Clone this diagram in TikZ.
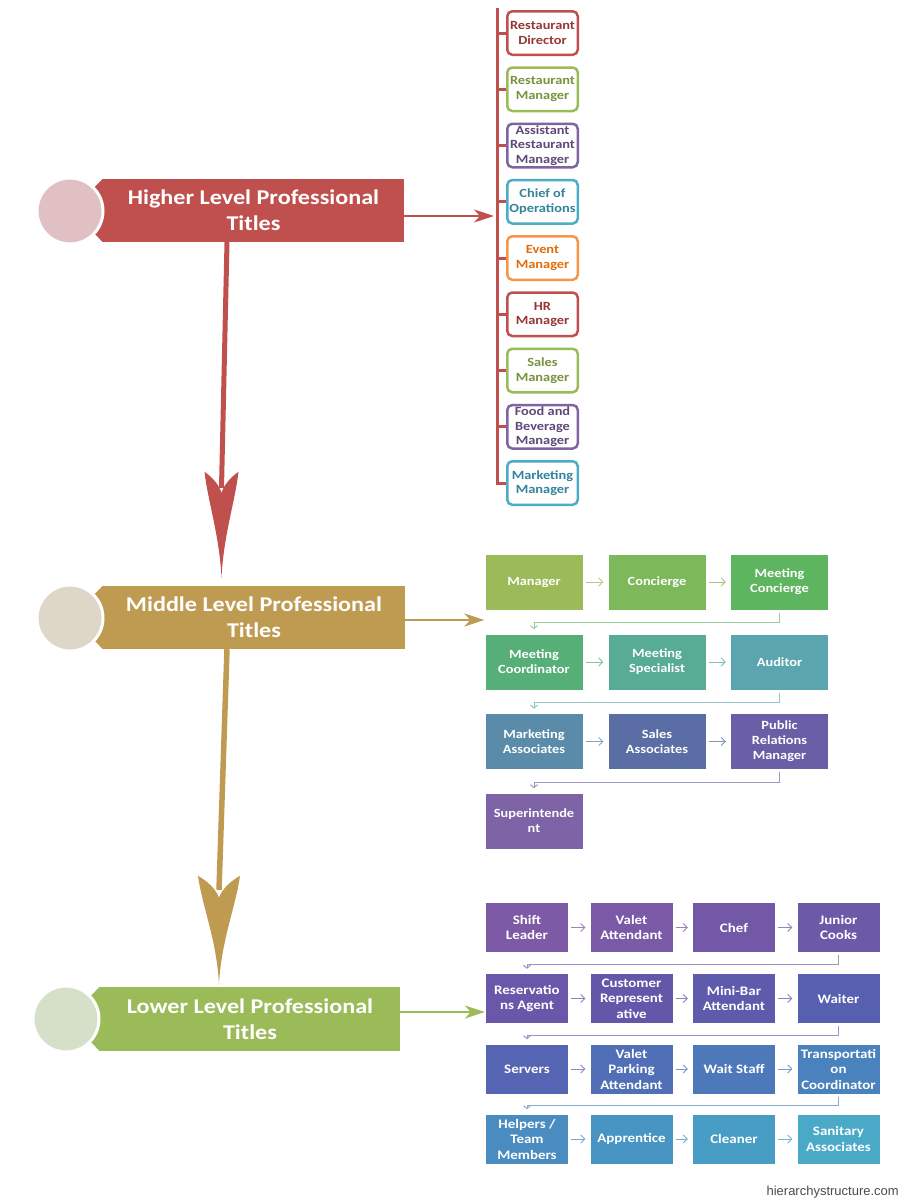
\documentclass[tikz,border=0pt]{standalone}
\usepackage{fontspec}
\setmainfont{Carlito}
\newfontfamily\cf{Carlito}[FakeStretch=1.15]
\newfontfamily\wmfont{Liberation Sans}
\usetikzlibrary{arrows.meta,calc}
% level colours
\definecolor{hred}{HTML}{C0504D}
\definecolor{hcirc}{HTML}{E0C0C3}
\definecolor{mgold}{HTML}{BF9B52}
\definecolor{mcirc}{HTML}{DED6C6}
\definecolor{lgreen}{HTML}{9BBB59}
\definecolor{lcirc}{HTML}{D6E0C9}
% list colours
\definecolor{cred}{HTML}{C0504D}\definecolor{tred}{HTML}{953735}
\definecolor{cgrn}{HTML}{9BBB59}\definecolor{tgrn}{HTML}{77933C}
\definecolor{cpur}{HTML}{8064A2}\definecolor{tpur}{HTML}{5F497A}
\definecolor{ctea}{HTML}{4BACC6}\definecolor{ttea}{HTML}{31849B}
\definecolor{cora}{HTML}{F79646}\definecolor{tora}{HTML}{E36C09}
% middle grid colours
\definecolor{mA}{HTML}{9BBB59}\definecolor{mB}{HTML}{7DB85B}\definecolor{mC}{HTML}{5EB560}
\definecolor{mD}{HTML}{57AF78}\definecolor{mE}{HTML}{58AB95}\definecolor{mF}{HTML}{5BA6AE}
\definecolor{mG}{HTML}{5A8CAA}\definecolor{mH}{HTML}{5A6EA5}\definecolor{mI}{HTML}{6A5EA6}
\definecolor{mJ}{HTML}{7E63A6}
% lower grid colours
\definecolor{lA}{HTML}{7D5AA6}\definecolor{lB}{HTML}{7A59A7}\definecolor{lC}{HTML}{7358A8}\definecolor{lD}{HTML}{6C59A8}
\definecolor{lE}{HTML}{6958A9}\definecolor{lF}{HTML}{6457AA}\definecolor{lG}{HTML}{5E5AAC}\definecolor{lH}{HTML}{575FB0}
\definecolor{lI}{HTML}{5565B4}\definecolor{lJ}{HTML}{506FB7}\definecolor{lK}{HTML}{4D78BA}\definecolor{lL}{HTML}{4A82BD}
\definecolor{lM}{HTML}{4A8BC0}\definecolor{lN}{HTML}{4894C2}\definecolor{lO}{HTML}{479DC4}\definecolor{lP}{HTML}{4BA9C8}
\newcommand\spearpath[2]{(0,0) .. controls (2,-0.4*#2) and (0.8*#1,-0.72*#2) .. (#1,-#2) .. controls (0.55*#1,-0.95*#2) and (0.15*#1,-0.88*#2) .. (0,-0.8*#2) .. controls (-0.15*#1,-0.88*#2) and (-0.55*#1,-0.95*#2) .. (-#1,-#2) .. controls (-0.8*#1,-0.72*#2) and (-2,-0.4*#2) .. cycle}
\begin{document}
\begin{tikzpicture}[x=1pt,y=-1pt,
  banner/.style={rectangle, inner sep=0, minimum height=63, text=white, align=center,
    font=\cf\bfseries\fontsize{21}{26}\selectfont},
  circ/.style={circle, inner sep=0, minimum size=66, draw=white, line width=3pt},
  harr/.style={line width=2.2pt, -{Stealth[length=20pt,width=13pt,inset=6pt]}},
  hbox/.style={rounded corners=5pt, draw=#1, line width=2.5pt, fill=white, minimum width=70.5, minimum height=43.5,
    inner sep=0, align=center, font=\cf\bfseries\fontsize{12.5}{14.5}\selectfont},
  brk/.style={draw=hred, line width=3pt},
  mbox/.style={fill=#1, minimum width=97, minimum height=55, inner sep=0, text=white, align=center,
    font=\cf\bfseries\fontsize{12.5}{15}\selectfont},
  lbox/.style={fill=#1, minimum width=82, minimum height=49, inner sep=0, text=white, align=center,
    font=\cf\bfseries\fontsize{13}{15.5}\selectfont},
  garr/.style={draw=#1, line width=0.9pt, shorten <=3pt, shorten >=5pt, -{Straight Barb[length=4pt,width=8pt]}},
  elb/.style={draw=#1, line width=1pt, shorten <=3pt, shorten >=5pt, -{Straight Barb[length=3pt,width=7pt]}}
]
\fill[white] (0,0) rectangle (900,1200);
\useasboundingbox (0,0) rectangle (900,1200);

% ---------- level banners ----------
\node[banner, fill=hred, minimum width=301] (hb) at (253.5,210.5) {Higher Level Professional\\Titles};
\fill[hred] (hb.north west) -- ++(-10,10) -- ++(0,43) -- (hb.south west) -- cycle;
\node[circ, fill=hcirc] (hc) at (70,211) {};

\node[banner, fill=mgold, minimum width=302] (mb) at (254,617.5) {Middle Level Professional\\Titles};
\fill[mgold] (mb.north west) -- ++(-10,10) -- ++(0,43) -- (mb.south west) -- cycle;
\node[circ, fill=mcirc] (mc) at (70,618) {};

\node[banner, fill=lgreen, minimum width=300, minimum height=64] (lb) at (250,1019) {Lower Level Professional\\Titles};
\fill[lgreen] (lb.north west) -- ++(-10,10) -- ++(0,44) -- (lb.south west) -- cycle;
\node[circ, fill=lcirc] (lc) at (66,1019) {};

% ---------- vertical spear arrows ----------
\coordinate (ht) at ([xshift=-32.5pt,yshift=8pt]mb.north);
\draw[hred, line width=5pt] ([xshift=-26.5pt]hb.south) -- ($(ht)+(0,-90)$);
\fill[hred, shift={(ht)}] \spearpath{17}{106};

\coordinate (mt) at ([xshift=-31pt,yshift=2pt]lb.north);
\draw[mgold, line width=5.5pt] ([xshift=-27pt]mb.south) -- ($(mt)+(0,-95)$);
\fill[mgold, shift={(mt)}] \spearpath{21}{109};

% ---------- higher list ----------
\coordinate (brtop) at (497,8);
\coordinate (brbot) at (497,485);
\draw[brk] (brtop) -- (brbot);
\node[hbox=cred, text=tred] (h1) at (542.5,33) {Restaurant\\Director};
\node[hbox=cgrn, text=tgrn] (h2) at (542.5,89.25) {Restaurant\\Manager};
\node[hbox=cpur, text=tpur] (h3) at (542.5,145.5) {Assistant\\Restaurant\\Manager};
\node[hbox=ctea, text=ttea] (h4) at (542.5,201.75) {Chief of\\Operations};
\node[hbox=cora, text=tora] (h5) at (542.5,258) {Event\\Manager};
\node[hbox=cred, text=tred] (h6) at (542.5,314.25) {HR\\Manager};
\node[hbox=cgrn, text=tgrn] (h7) at (542.5,370.5) {Sales\\Manager};
\node[hbox=cpur, text=tpur] (h8) at (542.5,426.75) {Food and\\Beverage\\Manager};
\node[hbox=ctea, text=ttea] (h9) at (542.5,483) {Marketing\\Manager};
\foreach \i in {1,...,9}{\draw[brk] (h\i.west -| brtop) -- (h\i.west);}
\draw[harr, hred, shorten >=3pt] ([yshift=-5.5pt]hb.east) -- ([yshift=-5.5pt]hb.east -| brtop);

% ---------- middle grid ----------
\node[mbox=mA] (m1) at (534,582) {Manager};
\node[mbox=mB] (m2) at (657,582) {Concierge};
\node[mbox=mC] (m3) at (779.5,582) {Meeting\\Concierge};
\node[mbox=mD] (m4) at (534,662) {Meeting\\Coordinator};
\node[mbox=mE] (m5) at (657,662) {Meeting\\Specialist};
\node[mbox=mF] (m6) at (779.5,662) {Auditor};
\node[mbox=mG] (m7) at (534,741.5) {Marketing\\Associates};
\node[mbox=mH] (m8) at (657,741.5) {Sales\\Associates};
\node[mbox=mI] (m9) at (779.5,741.5) {Public\\Relations\\Manager};
\node[mbox=mJ] (m10) at (534,821) {Superintende\\nt};
\draw[garr=mA!75!white] (m1) -- (m2);
\draw[garr=mB!75!white] (m2) -- (m3);
\draw[garr=mD!75!white] (m4) -- (m5);
\draw[garr=mE!75!white] (m5) -- (m6);
\draw[garr=mG!75!white] (m7) -- (m8);
\draw[garr=mH!75!white] (m8) -- (m9);
\draw[elb=mC!65!white] (m3.south) -- ++(0,13) -| (m4.north);
\draw[elb=mF!65!white] (m6.south) -- ++(0,13) -| (m7.north);
\draw[elb=mI!65!white] (m9.south) -- ++(0,13) -| (m10.north);
\draw[harr, mgold, shorten >=1pt] ([yshift=-2.5pt]mb.east) -- ([yshift=-2.5pt]mb.east -| m1.west);

% ---------- lower grid ----------
\node[lbox=lA] (l1) at (527,927.5) {Shift\\Leader};
\node[lbox=lB] (l2) at (631.5,927.5) {Valet\\Attendant};
\node[lbox=lC] (l3) at (734,927.5) {Chef};
\node[lbox=lD] (l4) at (838.5,927.5) {Junior\\Cooks};
\node[lbox=lE] (l5) at (527,998.5) {Reservatio\\ns Agent};
\node[lbox=lF] (l6) at (631.5,998.5) {Customer\\Represent\\ative};
\node[lbox=lG] (l7) at (734,998.5) {Mini-Bar\\Attendant};
\node[lbox=lH] (l8) at (838.5,998.5) {Waiter};
\node[lbox=lI] (l9) at (527,1069) {Servers};
\node[lbox=lJ] (l10) at (631.5,1069) {Valet\\Parking\\Attendant};
\node[lbox=lK] (l11) at (734,1069) {Wait Staff};
\node[lbox=lL] (l12) at (838.5,1069) {Transportati\\on\\Coordinator};
\node[lbox=lM] (l13) at (527,1139) {Helpers /\\Team\\Members};
\node[lbox=lN] (l14) at (631.5,1139) {Apprentice};
\node[lbox=lO] (l15) at (734,1139) {Cleaner};
\node[lbox=lP] (l16) at (838.5,1139) {Sanitary\\Associates};
\foreach \a/\b/\c in {1/2/lA,2/3/lB,3/4/lC,5/6/lE,6/7/lF,7/8/lG,9/10/lI,10/11/lJ,11/12/lK,13/14/lM,14/15/lN,15/16/lO}{
  \draw[garr=\c!75!white] (l\a) -- (l\b);}
\draw[elb=lD!65!white] (l4.south) -- ++(0,12) -| (l5.north);
\draw[elb=lH!65!white] (l8.south) -- ++(0,12) -| (l9.north);
\draw[elb=lL!65!white] (l12.south) -- ++(0,12) -| (l13.north);
\draw[harr, lgreen, shorten >=1pt] ([yshift=7pt]lb.east) -- ([yshift=7pt]lb.east -| l1.west);

% ---------- watermark ----------
\node[anchor=base east, inner sep=0, text=black!70, font=\wmfont\fontsize{13}{15}\selectfont] (wm) at (899,1195) {hierarchystructure.com};
\end{tikzpicture}
\end{document}
